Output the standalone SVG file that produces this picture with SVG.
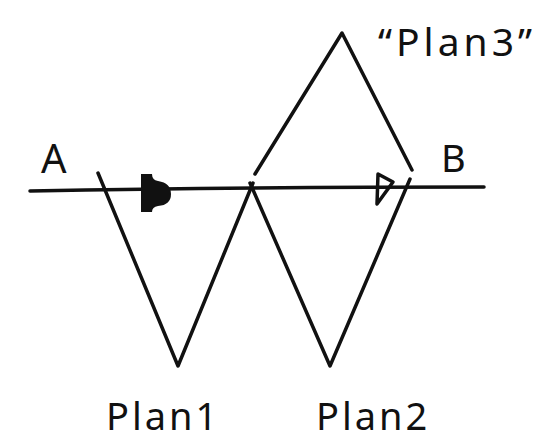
<svg xmlns="http://www.w3.org/2000/svg" width="536" height="444" viewBox="0 0 536 444">
<style>
.ln{fill:none;stroke:#111;stroke-width:3.5;stroke-linecap:round;stroke-linejoin:round}
.lbl{font-family:"Noto Sans","DejaVu Sans",sans-serif;fill:#111}
</style>
<rect width="536" height="444" fill="#fff"/>
<g id="connectors">
<path class="ln" d="M30,191 Q250,187 484,187"/>
<path id="plan1" class="ln" d="M98,173 L178,366 L253,183"/>
<path id="plan2" class="ln" d="M250,183 L330,366 L410,179"/>
<path id="plan3" class="ln" d="M255,174 L342,33 L412,170"/>
</g>
<g id="markers">
<path id="start" d="M141,174 L152,174 Q152,180 158,181 Q171,183 171,194 Q171,205 158,206 Q152,207 152,212 L141,212 Z" fill="#111"/>
<path id="target" class="ln" d="M378,174 L393,182 L377,204 Z" stroke-width="3.5"/>
</g>
<g id="labels">
<text class="lbl" x="41" y="173" font-size="40">A</text>
<text class="lbl" x="441" y="172" font-size="38">B</text>
<text class="lbl" x="378" y="56" font-size="39" letter-spacing="4">“Plan3”</text>
<text class="lbl" x="106" y="430" font-size="38" letter-spacing="3">Plan1</text>
<text class="lbl" x="316" y="430" font-size="38" letter-spacing="3">Plan2</text>
</g>
</svg>
